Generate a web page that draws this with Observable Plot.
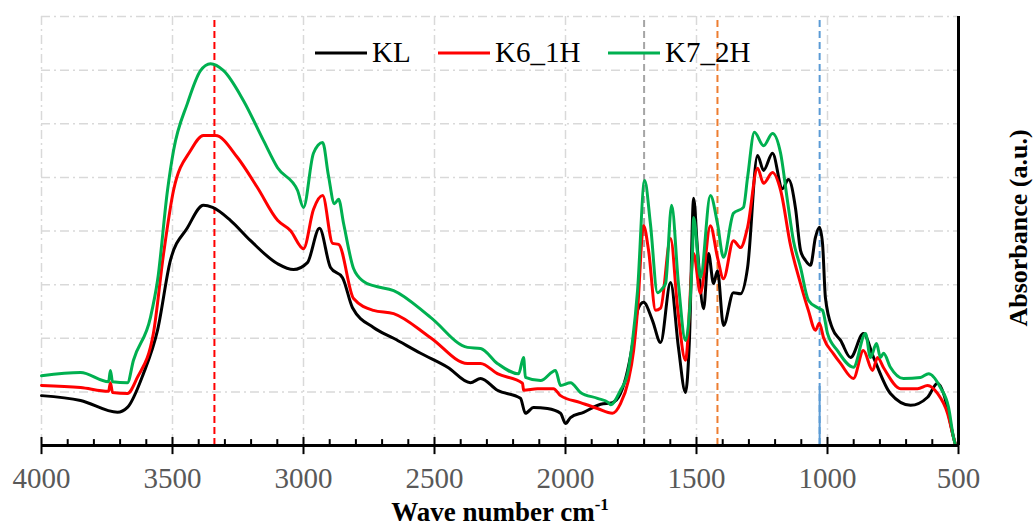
<!DOCTYPE html>
<html>
<head>
<meta charset="utf-8">
<script src="https://cdn.jsdelivr.net/npm/d3@7"></script>
<script src="https://cdn.jsdelivr.net/npm/@observablehq/plot@0.6"></script>
<style>
  html, body { margin: 0; padding: 0; background: #fff; }
  #chart { position: relative; width: 1035px; height: 529px; }
</style>
</head>
<body>
<div id="chart"></div>
<script>
// ---- data ----
const seriesNames = ["KL", "K6_1H", "K7_2H"];
const seriesColors = ["#000000", "#ff0000", "#00b050"];

const wnKL = [4000,3851,3710,3672,3611,3557,3508,3443,3382,3347,3279,3202,3099,3038,2985,2939,2897,2851,2813,2733,2656,2553,2450,2363,2324,2260,2172,2153,2122,2069,2019,2000,1981,1931,1866,1821,1790,1763,1740,1725,1702,1668,1637,1599,1569,1542,1527,1511,1496,1473,1454,1435,1420,1397,1359,1332,1305,1267,1244,1210,1172,1149,1122,1103,1084,1065,1046,1031,1019,1008,981,950,912,863,824,760,683,618,580,557,519,511];
const absKL = [0.093,0.084,0.062,0.071,0.134,0.215,0.345,0.406,0.448,0.444,0.420,0.382,0.339,0.328,0.341,0.405,0.332,0.313,0.257,0.220,0.200,0.172,0.146,0.117,0.125,0.103,0.088,0.060,0.071,0.069,0.060,0.041,0.052,0.062,0.077,0.080,0.097,0.140,0.201,0.252,0.267,0.233,0.192,0.304,0.183,0.099,0.196,0.461,0.364,0.255,0.358,0.302,0.326,0.224,0.285,0.283,0.332,0.541,0.513,0.545,0.479,0.496,0.442,0.364,0.345,0.336,0.388,0.407,0.377,0.276,0.218,0.196,0.164,0.209,0.164,0.097,0.075,0.090,0.116,0.097,0.015,0.000];

const wnK6 = [4000,3851,3744,3737,3729,3672,3634,3573,3534,3496,3431,3382,3336,3252,3176,3099,3050,3000,2962,2927,2889,2866,2809,2733,2656,2515,2374,2324,2260,2164,2160,2107,2046,2019,1943,1878,1821,1790,1760,1740,1725,1702,1683,1656,1637,1599,1572,1542,1511,1485,1447,1420,1397,1359,1332,1305,1267,1244,1210,1179,1141,1103,1073,1046,1031,1015,977,950,901,863,828,809,786,721,656,618,580,542,519,511];
const absK6 = [0.112,0.108,0.101,0.117,0.099,0.097,0.127,0.209,0.358,0.476,0.550,0.578,0.578,0.537,0.481,0.420,0.401,0.367,0.440,0.466,0.377,0.375,0.274,0.252,0.246,0.201,0.153,0.153,0.134,0.116,0.103,0.106,0.106,0.093,0.080,0.069,0.060,0.078,0.121,0.177,0.252,0.410,0.364,0.252,0.256,0.386,0.256,0.159,0.358,0.284,0.410,0.351,0.311,0.382,0.369,0.407,0.517,0.489,0.509,0.476,0.373,0.302,0.252,0.215,0.228,0.201,0.171,0.153,0.125,0.177,0.140,0.164,0.145,0.106,0.106,0.112,0.097,0.060,0.015,0.000];

const wnK7 = [4000,3851,3744,3737,3729,3672,3649,3584,3557,3519,3496,3443,3393,3355,3305,3229,3153,3099,3023,3000,2962,2927,2905,2882,2866,2847,2809,2771,2733,2656,2515,2374,2324,2260,2179,2160,2153,2095,2038,2019,1981,1943,1878,1836,1828,1790,1763,1744,1725,1698,1676,1649,1630,1618,1595,1569,1542,1515,1511,1485,1447,1420,1397,1359,1321,1305,1279,1244,1210,1179,1153,1130,1103,1073,1038,1019,1000,962,901,855,836,813,798,786,760,710,645,614,569,538,519,511];
const absK7 = [0.130,0.136,0.119,0.140,0.119,0.117,0.159,0.239,0.308,0.476,0.550,0.638,0.699,0.712,0.699,0.643,0.569,0.518,0.476,0.444,0.545,0.565,0.504,0.451,0.459,0.414,0.330,0.306,0.298,0.289,0.239,0.183,0.181,0.153,0.134,0.164,0.127,0.121,0.140,0.112,0.117,0.099,0.088,0.080,0.076,0.103,0.134,0.196,0.289,0.494,0.414,0.285,0.293,0.302,0.448,0.302,0.196,0.364,0.425,0.313,0.466,0.414,0.351,0.433,0.444,0.500,0.584,0.559,0.582,0.545,0.457,0.382,0.332,0.271,0.257,0.252,0.209,0.177,0.146,0.209,0.164,0.190,0.164,0.172,0.146,0.125,0.127,0.134,0.108,0.071,0.015,0.000];

// reference band positions (cm-1) and their colours
const refWavenumbers = [3340, 1700, 1420, 1030];
const refColors = ["#ff0000", "#a5a5a5", "#ed7d31", "#5b9bd5"];

// axis ticks
const xMajorTicks = [4000, 3500, 3000, 2500, 2000, 1500, 1000, 500];
const xMinorTicks = d3.range(600, 4000, 100).filter(v => v % 500 !== 0);
const yGridValues = [0.1, 0.2, 0.3, 0.4, 0.5, 0.6, 0.7, 0.8];

// ---- build tables ----
const wnArrays = [wnKL, wnK6, wnK7];
const absArrays = [absKL, absK6, absK7];
const rows = seriesNames.flatMap((name, s) =>
  wnArrays[s].map((w, i) => ({series: name, wn: w, A: absArrays[s][i]})));
const refs = refWavenumbers.map((w, i) => ({wn: w, color: refColors[i]}));
const blueRef = refs.filter(r => r.wn === 1030);

const FONT = "'Liberation Serif', 'Times New Roman', serif";
const gridStyle = {stroke: "#d9d9d9", strokeWidth: 1.5, strokeDasharray: "9,4,2,4"};

const chart = Plot.plot({
  width: 1035,
  height: 529,
  marginLeft: 41,
  marginRight: 77,
  marginTop: 16,
  marginBottom: 84,
  style: {background: "#fff", fontFamily: FONT, overflow: "visible"},
  x: {domain: [4000, 500], axis: null},
  y: {domain: [0, 0.8], axis: null},
  color: {domain: seriesNames, range: seriesColors},
  marks: [
    Plot.ruleX(xMajorTicks, {x: d => d, ...gridStyle}),
    Plot.ruleY(yGridValues, {y: d => d, ...gridStyle}),
    Plot.ruleX(refs, {x: "wn", y1: 0, y2: 0.8, stroke: "color", strokeWidth: 2, strokeDasharray: "7,4"}),
    Plot.ruleX(blueRef, {x: "wn", y1: 0, y2: 0.11, stroke: "color", strokeWidth: 2}),
    Plot.line(rows, {x: "wn", y: "A", z: "series", stroke: "series", strokeWidth: 3,
      curve: "monotone-x", strokeLinejoin: "round", strokeLinecap: "round"}),
    Plot.ruleY([0], {stroke: "#000", strokeWidth: 3}),
    Plot.ruleX([500], {y1: 0, y2: 0.8, stroke: "#000", strokeWidth: 3}),
    Plot.ruleX(xMajorTicks, {x: d => d, y1: -0.017, y2: 0.015, stroke: "#000", strokeWidth: 2}),
    Plot.ruleX(xMinorTicks, {x: d => d, y1: 0, y2: 0.011, stroke: "#000", strokeWidth: 2}),
    Plot.axisX({ticks: xMajorTicks, tickSize: 0, tickPadding: 22, tickFormat: d => String(d),
      fontSize: 29, color: "#595959", label: null, fontFamily: FONT})
  ]
});

document.getElementById("chart").appendChild(chart);

// ---- legend and axis titles (text kept as real SVG text) ----
const svg = d3.select(chart);
const legendX = [315, 438, 608];
const lg = svg.append("g").attr("font-family", FONT).attr("font-size", 29).attr("text-anchor", "start");
seriesNames.forEach((name, i) => {
  lg.append("line").attr("x1", legendX[i]).attr("x2", legendX[i] + 52)
    .attr("y1", 53).attr("y2", 53).attr("stroke", seriesColors[i]).attr("stroke-width", 3);
  lg.append("text").attr("x", legendX[i] + 57).attr("y", 62).attr("fill", "#000")
    .attr("text-anchor", "start").text(name);
});

const xt = svg.append("text").attr("x", 500).attr("y", 521).attr("text-anchor", "middle")
  .attr("font-family", FONT).attr("font-size", 27).attr("font-weight", "bold").attr("fill", "#000");
xt.append("tspan").text("Wave number cm");
xt.append("tspan").attr("font-size", 17).attr("dy", -11).text("-1");

svg.append("text").attr("transform", "translate(1027,228) rotate(-90)")
  .attr("text-anchor", "middle").attr("font-family", FONT).attr("font-size", 26)
  .attr("font-weight", "bold").attr("fill", "#000").text("Absorbance (a.u.)");
</script>
</body>
</html>
